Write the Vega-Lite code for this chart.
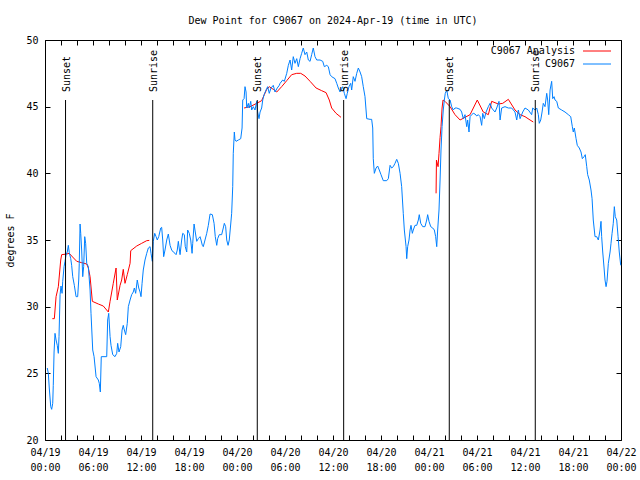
{
"$schema": "https://vega.github.io/schema/vega-lite/v6.json",
"width": 576, "height": 400,
"autosize": {"type": "none"},
"padding": {"left": 45, "top": 40, "right": 19, "bottom": 40},
"background": "white",
"config": {
  "font": "DejaVu Sans Mono",
  "view": {"stroke": "black", "strokeWidth": 1},
  "axis": {"domain": false, "ticks": false, "labelColor": "black", "titleColor": "black", "labelFontSize": 10, "titleFontSize": 10, "titleFontWeight": "normal", "labelFont": "DejaVu Sans Mono", "titleFont": "DejaVu Sans Mono", "grid": true, "gridColor": "#000000", "gridOpacity": 1, "gridWidth": 1}
},
"title": {"text": "Dew Point for C9067 on 2024-Apr-19 (time in UTC)", "fontSize": 10, "fontWeight": "normal", "font": "DejaVu Sans Mono", "anchor": "middle", "offset": 9, "color": "black"},
"datasets": {
  "sun": [
    {"t": "2024-04-19T02:34:00Z", "lab": "Sunset"},
    {"t": "2024-04-19T13:28:00Z", "lab": "Sunrise"},
    {"t": "2024-04-20T02:32:00Z", "lab": "Sunset"},
    {"t": "2024-04-20T13:20:00Z", "lab": "Sunrise"},
    {"t": "2024-04-21T02:32:00Z", "lab": "Sunset"},
    {"t": "2024-04-21T13:17:00Z", "lab": "Sunrise"}
  ],
  "dew": [
{"s":"C9067 Analysis","g":"a1","t":"2024-04-19T00:55:00Z","v":29.1},
{"s":"C9067 Analysis","g":"a1","t":"2024-04-19T01:10:00Z","v":29.1},
{"s":"C9067 Analysis","g":"a1","t":"2024-04-19T01:23:00Z","v":30.75},
{"s":"C9067 Analysis","g":"a1","t":"2024-04-19T01:40:00Z","v":31.5},
{"s":"C9067 Analysis","g":"a1","t":"2024-04-19T01:58:00Z","v":33.5},
{"s":"C9067 Analysis","g":"a1","t":"2024-04-19T02:05:00Z","v":33.9},
{"s":"C9067 Analysis","g":"a1","t":"2024-04-19T02:43:00Z","v":33.95},
{"s":"C9067 Analysis","g":"a1","t":"2024-04-19T03:02:00Z","v":34.0},
{"s":"C9067 Analysis","g":"a1","t":"2024-04-19T03:20:00Z","v":33.8},
{"s":"C9067 Analysis","g":"a1","t":"2024-04-19T03:58:00Z","v":33.4},
{"s":"C9067 Analysis","g":"a1","t":"2024-04-19T04:35:00Z","v":33.3},
{"s":"C9067 Analysis","g":"a1","t":"2024-04-19T05:13:00Z","v":33.2},
{"s":"C9067 Analysis","g":"a1","t":"2024-04-19T05:25:00Z","v":32.9},
{"s":"C9067 Analysis","g":"a1","t":"2024-04-19T05:38:00Z","v":32.25},
{"s":"C9067 Analysis","g":"a1","t":"2024-04-19T05:55:00Z","v":30.4},
{"s":"C9067 Analysis","g":"a1","t":"2024-04-19T06:40:00Z","v":30.2},
{"s":"C9067 Analysis","g":"a1","t":"2024-04-19T07:17:00Z","v":30.05},
{"s":"C9067 Analysis","g":"a1","t":"2024-04-19T07:55:00Z","v":29.6},
{"s":"C9067 Analysis","g":"a1","t":"2024-04-19T08:08:00Z","v":30.4},
{"s":"C9067 Analysis","g":"a1","t":"2024-04-19T08:32:00Z","v":31.75},
{"s":"C9067 Analysis","g":"a1","t":"2024-04-19T08:53:00Z","v":32.9},
{"s":"C9067 Analysis","g":"a1","t":"2024-04-19T09:02:00Z","v":30.5},
{"s":"C9067 Analysis","g":"a1","t":"2024-04-19T09:23:00Z","v":31.6},
{"s":"C9067 Analysis","g":"a1","t":"2024-04-19T09:35:00Z","v":32.0},
{"s":"C9067 Analysis","g":"a1","t":"2024-04-19T09:47:00Z","v":32.8},
{"s":"C9067 Analysis","g":"a1","t":"2024-04-19T10:00:00Z","v":31.75},
{"s":"C9067 Analysis","g":"a1","t":"2024-04-19T10:17:00Z","v":32.4},
{"s":"C9067 Analysis","g":"a1","t":"2024-04-19T10:38:00Z","v":33.25},
{"s":"C9067 Analysis","g":"a1","t":"2024-04-19T10:43:00Z","v":34.2},
{"s":"C9067 Analysis","g":"a1","t":"2024-04-19T11:28:00Z","v":34.55},
{"s":"C9067 Analysis","g":"a1","t":"2024-04-19T12:05:00Z","v":34.75},
{"s":"C9067 Analysis","g":"a1","t":"2024-04-19T12:43:00Z","v":34.95},
{"s":"C9067 Analysis","g":"a1","t":"2024-04-19T13:02:00Z","v":34.97},
{"s":"C9067 Analysis","g":"a2","t":"2024-04-20T00:53:00Z","v":44.9},
{"s":"C9067 Analysis","g":"a2","t":"2024-04-20T01:38:00Z","v":45.0},
{"s":"C9067 Analysis","g":"a2","t":"2024-04-20T02:28:00Z","v":45.25},
{"s":"C9067 Analysis","g":"a2","t":"2024-04-20T03:05:00Z","v":45.45},
{"s":"C9067 Analysis","g":"a2","t":"2024-04-20T03:25:00Z","v":45.9},
{"s":"C9067 Analysis","g":"a2","t":"2024-04-20T03:43:00Z","v":46.3},
{"s":"C9067 Analysis","g":"a2","t":"2024-04-20T04:02:00Z","v":46.5},
{"s":"C9067 Analysis","g":"a2","t":"2024-04-20T04:32:00Z","v":46.3},
{"s":"C9067 Analysis","g":"a2","t":"2024-04-20T04:58:00Z","v":46.1},
{"s":"C9067 Analysis","g":"a2","t":"2024-04-20T05:35:00Z","v":46.5},
{"s":"C9067 Analysis","g":"a2","t":"2024-04-20T06:13:00Z","v":46.95},
{"s":"C9067 Analysis","g":"a2","t":"2024-04-20T06:50:00Z","v":47.4},
{"s":"C9067 Analysis","g":"a2","t":"2024-04-20T07:28:00Z","v":47.5},
{"s":"C9067 Analysis","g":"a2","t":"2024-04-20T07:58:00Z","v":47.5},
{"s":"C9067 Analysis","g":"a2","t":"2024-04-20T08:30:00Z","v":47.3},
{"s":"C9067 Analysis","g":"a2","t":"2024-04-20T09:08:00Z","v":46.9},
{"s":"C9067 Analysis","g":"a2","t":"2024-04-20T09:53:00Z","v":46.4},
{"s":"C9067 Analysis","g":"a2","t":"2024-04-20T10:35:00Z","v":46.2},
{"s":"C9067 Analysis","g":"a2","t":"2024-04-20T11:08:00Z","v":46.05},
{"s":"C9067 Analysis","g":"a2","t":"2024-04-20T11:32:00Z","v":45.5},
{"s":"C9067 Analysis","g":"a2","t":"2024-04-20T11:50:00Z","v":44.9},
{"s":"C9067 Analysis","g":"a2","t":"2024-04-20T12:23:00Z","v":44.5},
{"s":"C9067 Analysis","g":"a2","t":"2024-04-20T13:00:00Z","v":44.2},
{"s":"C9067 Analysis","g":"a3","t":"2024-04-21T00:53:00Z","v":38.5},
{"s":"C9067 Analysis","g":"a3","t":"2024-04-21T00:56:00Z","v":41.0},
{"s":"C9067 Analysis","g":"a3","t":"2024-04-21T01:08:00Z","v":40.5},
{"s":"C9067 Analysis","g":"a3","t":"2024-04-21T01:15:00Z","v":41.5},
{"s":"C9067 Analysis","g":"a3","t":"2024-04-21T01:23:00Z","v":42.7},
{"s":"C9067 Analysis","g":"a3","t":"2024-04-21T01:30:00Z","v":43.5},
{"s":"C9067 Analysis","g":"a3","t":"2024-04-21T01:38:00Z","v":44.9},
{"s":"C9067 Analysis","g":"a3","t":"2024-04-21T01:45:00Z","v":45.5},
{"s":"C9067 Analysis","g":"a3","t":"2024-04-21T02:00:00Z","v":45.4},
{"s":"C9067 Analysis","g":"a3","t":"2024-04-21T02:38:00Z","v":45.0},
{"s":"C9067 Analysis","g":"a3","t":"2024-04-21T03:15:00Z","v":44.4},
{"s":"C9067 Analysis","g":"a3","t":"2024-04-21T03:53:00Z","v":44.0},
{"s":"C9067 Analysis","g":"a3","t":"2024-04-21T05:08:00Z","v":44.4},
{"s":"C9067 Analysis","g":"a3","t":"2024-04-21T06:02:00Z","v":45.5},
{"s":"C9067 Analysis","g":"a3","t":"2024-04-21T06:47:00Z","v":44.6},
{"s":"C9067 Analysis","g":"a3","t":"2024-04-21T07:25:00Z","v":44.4},
{"s":"C9067 Analysis","g":"a3","t":"2024-04-21T07:50:00Z","v":45.4},
{"s":"C9067 Analysis","g":"a3","t":"2024-04-21T08:40:00Z","v":45.2},
{"s":"C9067 Analysis","g":"a3","t":"2024-04-21T09:13:00Z","v":45.25},
{"s":"C9067 Analysis","g":"a3","t":"2024-04-21T09:55:00Z","v":45.55},
{"s":"C9067 Analysis","g":"a3","t":"2024-04-21T10:45:00Z","v":44.75},
{"s":"C9067 Analysis","g":"a3","t":"2024-04-21T11:23:00Z","v":44.4},
{"s":"C9067 Analysis","g":"a3","t":"2024-04-21T12:00:00Z","v":44.25},
{"s":"C9067 Analysis","g":"a3","t":"2024-04-21T12:38:00Z","v":44.0},
{"s":"C9067 Analysis","g":"a3","t":"2024-04-21T13:02:00Z","v":43.85},
{"s":"C9067","g":"o","t":"2024-04-19T00:17:00Z","v":25.4},
{"s":"C9067","g":"o","t":"2024-04-19T00:25:00Z","v":25.0},
{"s":"C9067","g":"o","t":"2024-04-19T00:32:00Z","v":23.9},
{"s":"C9067","g":"o","t":"2024-04-19T00:43:00Z","v":22.5},
{"s":"C9067","g":"o","t":"2024-04-19T00:50:00Z","v":22.3},
{"s":"C9067","g":"o","t":"2024-04-19T00:58:00Z","v":22.75},
{"s":"C9067","g":"o","t":"2024-04-19T01:02:00Z","v":24.1},
{"s":"C9067","g":"o","t":"2024-04-19T01:08:00Z","v":26.6},
{"s":"C9067","g":"o","t":"2024-04-19T01:15:00Z","v":28.0},
{"s":"C9067","g":"o","t":"2024-04-19T01:23:00Z","v":27.5},
{"s":"C9067","g":"o","t":"2024-04-19T01:32:00Z","v":27.1},
{"s":"C9067","g":"o","t":"2024-04-19T01:40:00Z","v":26.5},
{"s":"C9067","g":"o","t":"2024-04-19T01:45:00Z","v":27.75},
{"s":"C9067","g":"o","t":"2024-04-19T01:53:00Z","v":30.9},
{"s":"C9067","g":"o","t":"2024-04-19T02:00:00Z","v":31.55},
{"s":"C9067","g":"o","t":"2024-04-19T02:08:00Z","v":31.0},
{"s":"C9067","g":"o","t":"2024-04-19T02:13:00Z","v":31.9},
{"s":"C9067","g":"o","t":"2024-04-19T02:23:00Z","v":33.0},
{"s":"C9067","g":"o","t":"2024-04-19T02:30:00Z","v":33.4},
{"s":"C9067","g":"o","t":"2024-04-19T02:38:00Z","v":33.9},
{"s":"C9067","g":"o","t":"2024-04-19T02:47:00Z","v":34.1},
{"s":"C9067","g":"o","t":"2024-04-19T02:55:00Z","v":34.6},
{"s":"C9067","g":"o","t":"2024-04-19T03:02:00Z","v":34.05},
{"s":"C9067","g":"o","t":"2024-04-19T03:13:00Z","v":33.6},
{"s":"C9067","g":"o","t":"2024-04-19T03:20:00Z","v":33.1},
{"s":"C9067","g":"o","t":"2024-04-19T03:28:00Z","v":32.25},
{"s":"C9067","g":"o","t":"2024-04-19T03:40:00Z","v":31.6},
{"s":"C9067","g":"o","t":"2024-04-19T03:53:00Z","v":30.75},
{"s":"C9067","g":"o","t":"2024-04-19T04:05:00Z","v":30.75},
{"s":"C9067","g":"o","t":"2024-04-19T04:13:00Z","v":32.0},
{"s":"C9067","g":"o","t":"2024-04-19T04:17:00Z","v":33.25},
{"s":"C9067","g":"o","t":"2024-04-19T04:23:00Z","v":36.2},
{"s":"C9067","g":"o","t":"2024-04-19T04:28:00Z","v":35.5},
{"s":"C9067","g":"o","t":"2024-04-19T04:35:00Z","v":34.25},
{"s":"C9067","g":"o","t":"2024-04-19T04:43:00Z","v":32.25},
{"s":"C9067","g":"o","t":"2024-04-19T04:50:00Z","v":33.0},
{"s":"C9067","g":"o","t":"2024-04-19T04:58:00Z","v":35.25},
{"s":"C9067","g":"o","t":"2024-04-19T05:05:00Z","v":34.75},
{"s":"C9067","g":"o","t":"2024-04-19T05:13:00Z","v":33.25},
{"s":"C9067","g":"o","t":"2024-04-19T05:25:00Z","v":33.0},
{"s":"C9067","g":"o","t":"2024-04-19T05:38:00Z","v":31.25},
{"s":"C9067","g":"o","t":"2024-04-19T05:45:00Z","v":29.5},
{"s":"C9067","g":"o","t":"2024-04-19T05:58:00Z","v":26.75},
{"s":"C9067","g":"o","t":"2024-04-19T06:08:00Z","v":26.25},
{"s":"C9067","g":"o","t":"2024-04-19T06:23:00Z","v":24.75},
{"s":"C9067","g":"o","t":"2024-04-19T06:40:00Z","v":24.5},
{"s":"C9067","g":"o","t":"2024-04-19T06:47:00Z","v":24.25},
{"s":"C9067","g":"o","t":"2024-04-19T06:55:00Z","v":23.6},
{"s":"C9067","g":"o","t":"2024-04-19T07:02:00Z","v":26.25},
{"s":"C9067","g":"o","t":"2024-04-19T07:43:00Z","v":26.25},
{"s":"C9067","g":"o","t":"2024-04-19T07:50:00Z","v":29.0},
{"s":"C9067","g":"o","t":"2024-04-19T07:58:00Z","v":29.5},
{"s":"C9067","g":"o","t":"2024-04-19T08:08:00Z","v":27.75},
{"s":"C9067","g":"o","t":"2024-04-19T08:15:00Z","v":27.1},
{"s":"C9067","g":"o","t":"2024-04-19T08:28:00Z","v":26.4},
{"s":"C9067","g":"o","t":"2024-04-19T08:45:00Z","v":26.25},
{"s":"C9067","g":"o","t":"2024-04-19T08:58:00Z","v":26.5},
{"s":"C9067","g":"o","t":"2024-04-19T09:05:00Z","v":27.25},
{"s":"C9067","g":"o","t":"2024-04-19T09:15:00Z","v":26.6},
{"s":"C9067","g":"o","t":"2024-04-19T09:28:00Z","v":27.0},
{"s":"C9067","g":"o","t":"2024-04-19T09:38:00Z","v":28.25},
{"s":"C9067","g":"o","t":"2024-04-19T09:47:00Z","v":28.6},
{"s":"C9067","g":"o","t":"2024-04-19T09:55:00Z","v":28.25},
{"s":"C9067","g":"o","t":"2024-04-19T10:05:00Z","v":27.9},
{"s":"C9067","g":"o","t":"2024-04-19T10:17:00Z","v":28.75},
{"s":"C9067","g":"o","t":"2024-04-19T10:25:00Z","v":30.0},
{"s":"C9067","g":"o","t":"2024-04-19T10:38:00Z","v":30.5},
{"s":"C9067","g":"o","t":"2024-04-19T10:50:00Z","v":30.9},
{"s":"C9067","g":"o","t":"2024-04-19T11:02:00Z","v":31.1},
{"s":"C9067","g":"o","t":"2024-04-19T11:10:00Z","v":31.4},
{"s":"C9067","g":"o","t":"2024-04-19T11:20:00Z","v":31.0},
{"s":"C9067","g":"o","t":"2024-04-19T11:32:00Z","v":32.0},
{"s":"C9067","g":"o","t":"2024-04-19T11:43:00Z","v":31.4},
{"s":"C9067","g":"o","t":"2024-04-19T11:53:00Z","v":31.1},
{"s":"C9067","g":"o","t":"2024-04-19T12:00:00Z","v":30.75},
{"s":"C9067","g":"o","t":"2024-04-19T12:08:00Z","v":31.75},
{"s":"C9067","g":"o","t":"2024-04-19T12:17:00Z","v":32.75},
{"s":"C9067","g":"o","t":"2024-04-19T12:30:00Z","v":33.5},
{"s":"C9067","g":"o","t":"2024-04-19T12:43:00Z","v":34.0},
{"s":"C9067","g":"o","t":"2024-04-19T12:55:00Z","v":34.4},
{"s":"C9067","g":"o","t":"2024-04-19T13:08:00Z","v":34.5},
{"s":"C9067","g":"o","t":"2024-04-19T13:15:00Z","v":34.0},
{"s":"C9067","g":"o","t":"2024-04-19T13:25:00Z","v":33.4},
{"s":"C9067","g":"o","t":"2024-04-19T13:32:00Z","v":34.9},
{"s":"C9067","g":"o","t":"2024-04-19T13:43:00Z","v":35.5},
{"s":"C9067","g":"o","t":"2024-04-19T13:53:00Z","v":35.25},
{"s":"C9067","g":"o","t":"2024-04-19T14:02:00Z","v":35.0},
{"s":"C9067","g":"o","t":"2024-04-19T14:13:00Z","v":35.25},
{"s":"C9067","g":"o","t":"2024-04-19T14:28:00Z","v":35.9},
{"s":"C9067","g":"o","t":"2024-04-19T14:35:00Z","v":35.95},
{"s":"C9067","g":"o","t":"2024-04-19T14:43:00Z","v":35.0},
{"s":"C9067","g":"o","t":"2024-04-19T14:50:00Z","v":33.75},
{"s":"C9067","g":"o","t":"2024-04-19T15:00:00Z","v":34.25},
{"s":"C9067","g":"o","t":"2024-04-19T15:13:00Z","v":35.0},
{"s":"C9067","g":"o","t":"2024-04-19T15:25:00Z","v":35.45},
{"s":"C9067","g":"o","t":"2024-04-19T15:38:00Z","v":34.6},
{"s":"C9067","g":"o","t":"2024-04-19T15:50:00Z","v":34.25},
{"s":"C9067","g":"o","t":"2024-04-19T16:02:00Z","v":34.1},
{"s":"C9067","g":"o","t":"2024-04-19T16:15:00Z","v":34.0},
{"s":"C9067","g":"o","t":"2024-04-19T16:23:00Z","v":33.9},
{"s":"C9067","g":"o","t":"2024-04-19T16:32:00Z","v":34.25},
{"s":"C9067","g":"o","t":"2024-04-19T16:40:00Z","v":34.9},
{"s":"C9067","g":"o","t":"2024-04-19T16:53:00Z","v":33.9},
{"s":"C9067","g":"o","t":"2024-04-19T17:05:00Z","v":35.0},
{"s":"C9067","g":"o","t":"2024-04-19T17:13:00Z","v":35.5},
{"s":"C9067","g":"o","t":"2024-04-19T17:25:00Z","v":35.4},
{"s":"C9067","g":"o","t":"2024-04-19T17:32:00Z","v":34.5},
{"s":"C9067","g":"o","t":"2024-04-19T17:43:00Z","v":34.1},
{"s":"C9067","g":"o","t":"2024-04-19T17:50:00Z","v":35.75},
{"s":"C9067","g":"o","t":"2024-04-19T18:02:00Z","v":35.5},
{"s":"C9067","g":"o","t":"2024-04-19T18:13:00Z","v":35.0},
{"s":"C9067","g":"o","t":"2024-04-19T18:23:00Z","v":34.0},
{"s":"C9067","g":"o","t":"2024-04-19T18:28:00Z","v":34.75},
{"s":"C9067","g":"o","t":"2024-04-19T18:38:00Z","v":36.2},
{"s":"C9067","g":"o","t":"2024-04-19T18:47:00Z","v":35.6},
{"s":"C9067","g":"o","t":"2024-04-19T18:58:00Z","v":34.9},
{"s":"C9067","g":"o","t":"2024-04-19T19:10:00Z","v":35.1},
{"s":"C9067","g":"o","t":"2024-04-19T19:23:00Z","v":35.25},
{"s":"C9067","g":"o","t":"2024-04-19T19:30:00Z","v":35.0},
{"s":"C9067","g":"o","t":"2024-04-19T19:40:00Z","v":34.6},
{"s":"C9067","g":"o","t":"2024-04-19T19:47:00Z","v":34.5},
{"s":"C9067","g":"o","t":"2024-04-19T20:00:00Z","v":35.0},
{"s":"C9067","g":"o","t":"2024-04-19T20:13:00Z","v":35.5},
{"s":"C9067","g":"o","t":"2024-04-19T20:25:00Z","v":36.1},
{"s":"C9067","g":"o","t":"2024-04-19T20:38:00Z","v":36.95},
{"s":"C9067","g":"o","t":"2024-04-19T20:55:00Z","v":36.9},
{"s":"C9067","g":"o","t":"2024-04-19T21:08:00Z","v":36.25},
{"s":"C9067","g":"o","t":"2024-04-19T21:17:00Z","v":35.25},
{"s":"C9067","g":"o","t":"2024-04-19T21:28:00Z","v":34.6},
{"s":"C9067","g":"o","t":"2024-04-19T21:35:00Z","v":35.1},
{"s":"C9067","g":"o","t":"2024-04-19T21:47:00Z","v":35.4},
{"s":"C9067","g":"o","t":"2024-04-19T22:05:00Z","v":35.4},
{"s":"C9067","g":"o","t":"2024-04-19T22:17:00Z","v":35.9},
{"s":"C9067","g":"o","t":"2024-04-19T22:25:00Z","v":36.25},
{"s":"C9067","g":"o","t":"2024-04-19T22:35:00Z","v":36.0},
{"s":"C9067","g":"o","t":"2024-04-19T22:43:00Z","v":35.0},
{"s":"C9067","g":"o","t":"2024-04-19T22:53:00Z","v":34.6},
{"s":"C9067","g":"o","t":"2024-04-19T23:02:00Z","v":35.0},
{"s":"C9067","g":"o","t":"2024-04-19T23:13:00Z","v":36.2},
{"s":"C9067","g":"o","t":"2024-04-19T23:20:00Z","v":37.0},
{"s":"C9067","g":"o","t":"2024-04-19T23:28:00Z","v":39.0},
{"s":"C9067","g":"o","t":"2024-04-19T23:32:00Z","v":41.5},
{"s":"C9067","g":"o","t":"2024-04-19T23:40:00Z","v":43.1},
{"s":"C9067","g":"o","t":"2024-04-19T23:45:00Z","v":42.5},
{"s":"C9067","g":"o","t":"2024-04-19T23:53:00Z","v":42.4},
{"s":"C9067","g":"o","t":"2024-04-20T00:10:00Z","v":42.5},
{"s":"C9067","g":"o","t":"2024-04-20T00:28:00Z","v":42.6},
{"s":"C9067","g":"o","t":"2024-04-20T00:38:00Z","v":43.4},
{"s":"C9067","g":"o","t":"2024-04-20T00:43:00Z","v":45.5},
{"s":"C9067","g":"o","t":"2024-04-20T00:53:00Z","v":45.6},
{"s":"C9067","g":"o","t":"2024-04-20T01:00:00Z","v":46.5},
{"s":"C9067","g":"o","t":"2024-04-20T01:08:00Z","v":46.1},
{"s":"C9067","g":"o","t":"2024-04-20T01:13:00Z","v":44.9},
{"s":"C9067","g":"o","t":"2024-04-20T01:25:00Z","v":45.25},
{"s":"C9067","g":"o","t":"2024-04-20T01:32:00Z","v":44.9},
{"s":"C9067","g":"o","t":"2024-04-20T01:43:00Z","v":45.4},
{"s":"C9067","g":"o","t":"2024-04-20T01:50:00Z","v":44.75},
{"s":"C9067","g":"o","t":"2024-04-20T02:02:00Z","v":45.0},
{"s":"C9067","g":"o","t":"2024-04-20T02:15:00Z","v":44.75},
{"s":"C9067","g":"o","t":"2024-04-20T02:28:00Z","v":45.4},
{"s":"C9067","g":"o","t":"2024-04-20T02:35:00Z","v":44.6},
{"s":"C9067","g":"o","t":"2024-04-20T02:45:00Z","v":44.1},
{"s":"C9067","g":"o","t":"2024-04-20T02:53:00Z","v":44.6},
{"s":"C9067","g":"o","t":"2024-04-20T03:05:00Z","v":44.9},
{"s":"C9067","g":"o","t":"2024-04-20T03:13:00Z","v":45.5},
{"s":"C9067","g":"o","t":"2024-04-20T03:23:00Z","v":45.9},
{"s":"C9067","g":"o","t":"2024-04-20T03:38:00Z","v":46.25},
{"s":"C9067","g":"o","t":"2024-04-20T03:50:00Z","v":46.5},
{"s":"C9067","g":"o","t":"2024-04-20T04:02:00Z","v":46.0},
{"s":"C9067","g":"o","t":"2024-04-20T04:15:00Z","v":46.4},
{"s":"C9067","g":"o","t":"2024-04-20T04:32:00Z","v":46.6},
{"s":"C9067","g":"o","t":"2024-04-20T04:45:00Z","v":46.1},
{"s":"C9067","g":"o","t":"2024-04-20T05:02:00Z","v":46.4},
{"s":"C9067","g":"o","t":"2024-04-20T05:17:00Z","v":46.6},
{"s":"C9067","g":"o","t":"2024-04-20T05:23:00Z","v":46.75},
{"s":"C9067","g":"o","t":"2024-04-20T05:43:00Z","v":47.0},
{"s":"C9067","g":"o","t":"2024-04-20T05:55:00Z","v":46.9},
{"s":"C9067","g":"o","t":"2024-04-20T06:13:00Z","v":47.5},
{"s":"C9067","g":"o","t":"2024-04-20T06:25:00Z","v":48.1},
{"s":"C9067","g":"o","t":"2024-04-20T06:38:00Z","v":48.5},
{"s":"C9067","g":"o","t":"2024-04-20T06:50:00Z","v":47.75},
{"s":"C9067","g":"o","t":"2024-04-20T07:02:00Z","v":48.75},
{"s":"C9067","g":"o","t":"2024-04-20T07:15:00Z","v":48.25},
{"s":"C9067","g":"o","t":"2024-04-20T07:28:00Z","v":48.6},
{"s":"C9067","g":"o","t":"2024-04-20T07:40:00Z","v":48.0},
{"s":"C9067","g":"o","t":"2024-04-20T07:53:00Z","v":48.6},
{"s":"C9067","g":"o","t":"2024-04-20T08:05:00Z","v":49.0},
{"s":"C9067","g":"o","t":"2024-04-20T08:17:00Z","v":49.4},
{"s":"C9067","g":"o","t":"2024-04-20T08:30:00Z","v":48.9},
{"s":"C9067","g":"o","t":"2024-04-20T08:43:00Z","v":49.1},
{"s":"C9067","g":"o","t":"2024-04-20T08:55:00Z","v":48.5},
{"s":"C9067","g":"o","t":"2024-04-20T09:08:00Z","v":48.4},
{"s":"C9067","g":"o","t":"2024-04-20T09:20:00Z","v":48.9},
{"s":"C9067","g":"o","t":"2024-04-20T09:32:00Z","v":49.4},
{"s":"C9067","g":"o","t":"2024-04-20T09:45:00Z","v":48.75},
{"s":"C9067","g":"o","t":"2024-04-20T09:58:00Z","v":48.5},
{"s":"C9067","g":"o","t":"2024-04-20T10:23:00Z","v":48.5},
{"s":"C9067","g":"o","t":"2024-04-20T10:43:00Z","v":48.4},
{"s":"C9067","g":"o","t":"2024-04-20T10:55:00Z","v":48.0},
{"s":"C9067","g":"o","t":"2024-04-20T11:13:00Z","v":48.1},
{"s":"C9067","g":"o","t":"2024-04-20T11:25:00Z","v":48.0},
{"s":"C9067","g":"o","t":"2024-04-20T11:38:00Z","v":47.4},
{"s":"C9067","g":"o","t":"2024-04-20T11:50:00Z","v":47.25},
{"s":"C9067","g":"o","t":"2024-04-20T12:15:00Z","v":47.1},
{"s":"C9067","g":"o","t":"2024-04-20T12:28:00Z","v":46.75},
{"s":"C9067","g":"o","t":"2024-04-20T12:40:00Z","v":46.4},
{"s":"C9067","g":"o","t":"2024-04-20T12:53:00Z","v":46.1},
{"s":"C9067","g":"o","t":"2024-04-20T13:13:00Z","v":46.5},
{"s":"C9067","g":"o","t":"2024-04-20T13:25:00Z","v":46.0},
{"s":"C9067","g":"o","t":"2024-04-20T13:38:00Z","v":45.6},
{"s":"C9067","g":"o","t":"2024-04-20T13:47:00Z","v":46.0},
{"s":"C9067","g":"o","t":"2024-04-20T14:00:00Z","v":46.5},
{"s":"C9067","g":"o","t":"2024-04-20T14:13:00Z","v":46.75},
{"s":"C9067","g":"o","t":"2024-04-20T14:20:00Z","v":46.25},
{"s":"C9067","g":"o","t":"2024-04-20T14:32:00Z","v":47.25},
{"s":"C9067","g":"o","t":"2024-04-20T14:45:00Z","v":46.9},
{"s":"C9067","g":"o","t":"2024-04-20T14:58:00Z","v":47.5},
{"s":"C9067","g":"o","t":"2024-04-20T15:10:00Z","v":47.9},
{"s":"C9067","g":"o","t":"2024-04-20T15:23:00Z","v":47.6},
{"s":"C9067","g":"o","t":"2024-04-20T15:35:00Z","v":47.25},
{"s":"C9067","g":"o","t":"2024-04-20T15:47:00Z","v":46.5},
{"s":"C9067","g":"o","t":"2024-04-20T16:00:00Z","v":45.75},
{"s":"C9067","g":"o","t":"2024-04-20T16:13:00Z","v":44.1},
{"s":"C9067","g":"o","t":"2024-04-20T16:38:00Z","v":44.05},
{"s":"C9067","g":"o","t":"2024-04-20T16:50:00Z","v":44.05},
{"s":"C9067","g":"o","t":"2024-04-20T16:58:00Z","v":43.4},
{"s":"C9067","g":"o","t":"2024-04-20T17:02:00Z","v":41.1},
{"s":"C9067","g":"o","t":"2024-04-20T17:10:00Z","v":40.0},
{"s":"C9067","g":"o","t":"2024-04-20T17:23:00Z","v":40.4},
{"s":"C9067","g":"o","t":"2024-04-20T17:35:00Z","v":40.55},
{"s":"C9067","g":"o","t":"2024-04-20T17:47:00Z","v":40.25},
{"s":"C9067","g":"o","t":"2024-04-20T18:00:00Z","v":39.9},
{"s":"C9067","g":"o","t":"2024-04-20T18:17:00Z","v":39.45},
{"s":"C9067","g":"o","t":"2024-04-20T18:43:00Z","v":39.45},
{"s":"C9067","g":"o","t":"2024-04-20T18:55:00Z","v":39.6},
{"s":"C9067","g":"o","t":"2024-04-20T19:08:00Z","v":40.6},
{"s":"C9067","g":"o","t":"2024-04-20T19:20:00Z","v":40.4},
{"s":"C9067","g":"o","t":"2024-04-20T19:32:00Z","v":40.5},
{"s":"C9067","g":"o","t":"2024-04-20T19:45:00Z","v":40.75},
{"s":"C9067","g":"o","t":"2024-04-20T19:58:00Z","v":41.05},
{"s":"C9067","g":"o","t":"2024-04-20T20:10:00Z","v":40.75},
{"s":"C9067","g":"o","t":"2024-04-20T20:23:00Z","v":40.0},
{"s":"C9067","g":"o","t":"2024-04-20T20:35:00Z","v":39.0},
{"s":"C9067","g":"o","t":"2024-04-20T20:47:00Z","v":37.0},
{"s":"C9067","g":"o","t":"2024-04-20T20:55:00Z","v":35.75},
{"s":"C9067","g":"o","t":"2024-04-20T21:08:00Z","v":34.5},
{"s":"C9067","g":"o","t":"2024-04-20T21:13:00Z","v":33.6},
{"s":"C9067","g":"o","t":"2024-04-20T21:20:00Z","v":34.5},
{"s":"C9067","g":"o","t":"2024-04-20T21:30:00Z","v":35.0},
{"s":"C9067","g":"o","t":"2024-04-20T21:38:00Z","v":35.75},
{"s":"C9067","g":"o","t":"2024-04-20T21:45:00Z","v":36.1},
{"s":"C9067","g":"o","t":"2024-04-20T21:55:00Z","v":35.5},
{"s":"C9067","g":"o","t":"2024-04-20T22:02:00Z","v":35.75},
{"s":"C9067","g":"o","t":"2024-04-20T22:15:00Z","v":36.1},
{"s":"C9067","g":"o","t":"2024-04-20T22:28:00Z","v":36.1},
{"s":"C9067","g":"o","t":"2024-04-20T22:40:00Z","v":36.5},
{"s":"C9067","g":"o","t":"2024-04-20T22:47:00Z","v":36.9},
{"s":"C9067","g":"o","t":"2024-04-20T22:58:00Z","v":36.25},
{"s":"C9067","g":"o","t":"2024-04-20T23:13:00Z","v":36.0},
{"s":"C9067","g":"o","t":"2024-04-20T23:30:00Z","v":36.0},
{"s":"C9067","g":"o","t":"2024-04-20T23:43:00Z","v":36.5},
{"s":"C9067","g":"o","t":"2024-04-20T23:50:00Z","v":36.9},
{"s":"C9067","g":"o","t":"2024-04-21T00:00:00Z","v":36.4},
{"s":"C9067","g":"o","t":"2024-04-21T00:13:00Z","v":36.0},
{"s":"C9067","g":"o","t":"2024-04-21T00:28:00Z","v":35.9},
{"s":"C9067","g":"o","t":"2024-04-21T00:40:00Z","v":35.75},
{"s":"C9067","g":"o","t":"2024-04-21T00:50:00Z","v":35.25},
{"s":"C9067","g":"o","t":"2024-04-21T00:58:00Z","v":34.5},
{"s":"C9067","g":"o","t":"2024-04-21T01:05:00Z","v":35.75},
{"s":"C9067","g":"o","t":"2024-04-21T01:15:00Z","v":37.25},
{"s":"C9067","g":"o","t":"2024-04-21T01:23:00Z","v":39.5},
{"s":"C9067","g":"o","t":"2024-04-21T01:30:00Z","v":41.75},
{"s":"C9067","g":"o","t":"2024-04-21T01:38:00Z","v":43.5},
{"s":"C9067","g":"o","t":"2024-04-21T01:47:00Z","v":44.75},
{"s":"C9067","g":"o","t":"2024-04-21T01:55:00Z","v":45.5},
{"s":"C9067","g":"o","t":"2024-04-21T02:02:00Z","v":46.0},
{"s":"C9067","g":"o","t":"2024-04-21T02:13:00Z","v":46.25},
{"s":"C9067","g":"o","t":"2024-04-21T02:25:00Z","v":45.6},
{"s":"C9067","g":"o","t":"2024-04-21T02:38:00Z","v":45.5},
{"s":"C9067","g":"o","t":"2024-04-21T02:50:00Z","v":45.0},
{"s":"C9067","g":"o","t":"2024-04-21T03:02:00Z","v":44.75},
{"s":"C9067","g":"o","t":"2024-04-21T03:15:00Z","v":44.9},
{"s":"C9067","g":"o","t":"2024-04-21T03:28:00Z","v":44.9},
{"s":"C9067","g":"o","t":"2024-04-21T03:53:00Z","v":44.8},
{"s":"C9067","g":"o","t":"2024-04-21T04:05:00Z","v":44.6},
{"s":"C9067","g":"o","t":"2024-04-21T04:17:00Z","v":44.1},
{"s":"C9067","g":"o","t":"2024-04-21T04:30:00Z","v":44.4},
{"s":"C9067","g":"o","t":"2024-04-21T04:43:00Z","v":43.5},
{"s":"C9067","g":"o","t":"2024-04-21T04:50:00Z","v":44.0},
{"s":"C9067","g":"o","t":"2024-04-21T05:00:00Z","v":43.1},
{"s":"C9067","g":"o","t":"2024-04-21T05:08:00Z","v":44.25},
{"s":"C9067","g":"o","t":"2024-04-21T05:20:00Z","v":44.4},
{"s":"C9067","g":"o","t":"2024-04-21T05:32:00Z","v":44.5},
{"s":"C9067","g":"o","t":"2024-04-21T05:45:00Z","v":44.45},
{"s":"C9067","g":"o","t":"2024-04-21T05:58:00Z","v":44.3},
{"s":"C9067","g":"o","t":"2024-04-21T06:10:00Z","v":44.4},
{"s":"C9067","g":"o","t":"2024-04-21T06:23:00Z","v":44.25},
{"s":"C9067","g":"o","t":"2024-04-21T06:35:00Z","v":43.6},
{"s":"C9067","g":"o","t":"2024-04-21T06:43:00Z","v":44.5},
{"s":"C9067","g":"o","t":"2024-04-21T06:55:00Z","v":44.1},
{"s":"C9067","g":"o","t":"2024-04-21T07:08:00Z","v":44.6},
{"s":"C9067","g":"o","t":"2024-04-21T07:25:00Z","v":45.0},
{"s":"C9067","g":"o","t":"2024-04-21T07:38:00Z","v":45.25},
{"s":"C9067","g":"o","t":"2024-04-21T07:50:00Z","v":44.9},
{"s":"C9067","g":"o","t":"2024-04-21T08:02:00Z","v":44.75},
{"s":"C9067","g":"o","t":"2024-04-21T08:15:00Z","v":44.6},
{"s":"C9067","g":"o","t":"2024-04-21T08:28:00Z","v":44.9},
{"s":"C9067","g":"o","t":"2024-04-21T08:45:00Z","v":45.4},
{"s":"C9067","g":"o","t":"2024-04-21T08:53:00Z","v":44.0},
{"s":"C9067","g":"o","t":"2024-04-21T09:05:00Z","v":44.9},
{"s":"C9067","g":"o","t":"2024-04-21T09:30:00Z","v":45.0},
{"s":"C9067","g":"o","t":"2024-04-21T09:55:00Z","v":44.9},
{"s":"C9067","g":"o","t":"2024-04-21T10:20:00Z","v":44.9},
{"s":"C9067","g":"o","t":"2024-04-21T10:45:00Z","v":44.6},
{"s":"C9067","g":"o","t":"2024-04-21T10:58:00Z","v":44.0},
{"s":"C9067","g":"o","t":"2024-04-21T11:10:00Z","v":44.75},
{"s":"C9067","g":"o","t":"2024-04-21T11:23:00Z","v":44.1},
{"s":"C9067","g":"o","t":"2024-04-21T11:43:00Z","v":44.6},
{"s":"C9067","g":"o","t":"2024-04-21T12:00:00Z","v":44.9},
{"s":"C9067","g":"o","t":"2024-04-21T12:25:00Z","v":44.75},
{"s":"C9067","g":"o","t":"2024-04-21T12:50:00Z","v":44.4},
{"s":"C9067","g":"o","t":"2024-04-21T12:58:00Z","v":44.9},
{"s":"C9067","g":"o","t":"2024-04-21T13:15:00Z","v":44.75},
{"s":"C9067","g":"o","t":"2024-04-21T13:28:00Z","v":44.9},
{"s":"C9067","g":"o","t":"2024-04-21T13:40:00Z","v":44.4},
{"s":"C9067","g":"o","t":"2024-04-21T13:47:00Z","v":43.75},
{"s":"C9067","g":"o","t":"2024-04-21T13:58:00Z","v":44.0},
{"s":"C9067","g":"o","t":"2024-04-21T14:08:00Z","v":44.6},
{"s":"C9067","g":"o","t":"2024-04-21T14:17:00Z","v":45.25},
{"s":"C9067","g":"o","t":"2024-04-21T14:30:00Z","v":45.0},
{"s":"C9067","g":"o","t":"2024-04-21T14:43:00Z","v":46.0},
{"s":"C9067","g":"o","t":"2024-04-21T14:50:00Z","v":45.5},
{"s":"C9067","g":"o","t":"2024-04-21T14:58:00Z","v":44.4},
{"s":"C9067","g":"o","t":"2024-04-21T15:08:00Z","v":46.25},
{"s":"C9067","g":"o","t":"2024-04-21T15:20:00Z","v":46.9},
{"s":"C9067","g":"o","t":"2024-04-21T15:28:00Z","v":45.6},
{"s":"C9067","g":"o","t":"2024-04-21T15:38:00Z","v":45.75},
{"s":"C9067","g":"o","t":"2024-04-21T15:45:00Z","v":45.5},
{"s":"C9067","g":"o","t":"2024-04-21T15:58:00Z","v":45.4},
{"s":"C9067","g":"o","t":"2024-04-21T16:10:00Z","v":44.9},
{"s":"C9067","g":"o","t":"2024-04-21T16:35:00Z","v":44.75},
{"s":"C9067","g":"o","t":"2024-04-21T17:00:00Z","v":44.6},
{"s":"C9067","g":"o","t":"2024-04-21T17:25:00Z","v":44.4},
{"s":"C9067","g":"o","t":"2024-04-21T17:43:00Z","v":44.25},
{"s":"C9067","g":"o","t":"2024-04-21T17:55:00Z","v":43.5},
{"s":"C9067","g":"o","t":"2024-04-21T18:02:00Z","v":43.1},
{"s":"C9067","g":"o","t":"2024-04-21T18:10:00Z","v":43.4},
{"s":"C9067","g":"o","t":"2024-04-21T18:23:00Z","v":42.6},
{"s":"C9067","g":"o","t":"2024-04-21T18:32:00Z","v":42.1},
{"s":"C9067","g":"o","t":"2024-04-21T18:47:00Z","v":41.9},
{"s":"C9067","g":"o","t":"2024-04-21T19:00:00Z","v":41.6},
{"s":"C9067","g":"o","t":"2024-04-21T19:10:00Z","v":41.1},
{"s":"C9067","g":"o","t":"2024-04-21T19:23:00Z","v":41.25},
{"s":"C9067","g":"o","t":"2024-04-21T19:32:00Z","v":41.4},
{"s":"C9067","g":"o","t":"2024-04-21T19:43:00Z","v":40.5},
{"s":"C9067","g":"o","t":"2024-04-21T19:50:00Z","v":39.9},
{"s":"C9067","g":"o","t":"2024-04-21T20:02:00Z","v":39.5},
{"s":"C9067","g":"o","t":"2024-04-21T20:15:00Z","v":38.75},
{"s":"C9067","g":"o","t":"2024-04-21T20:23:00Z","v":38.1},
{"s":"C9067","g":"o","t":"2024-04-21T20:32:00Z","v":36.5},
{"s":"C9067","g":"o","t":"2024-04-21T20:45:00Z","v":35.25},
{"s":"C9067","g":"o","t":"2024-04-21T20:58:00Z","v":35.25},
{"s":"C9067","g":"o","t":"2024-04-21T21:10:00Z","v":35.0},
{"s":"C9067","g":"o","t":"2024-04-21T21:23:00Z","v":35.75},
{"s":"C9067","g":"o","t":"2024-04-21T21:30:00Z","v":36.4},
{"s":"C9067","g":"o","t":"2024-04-21T21:35:00Z","v":35.25},
{"s":"C9067","g":"o","t":"2024-04-21T21:43:00Z","v":34.1},
{"s":"C9067","g":"o","t":"2024-04-21T21:53:00Z","v":32.9},
{"s":"C9067","g":"o","t":"2024-04-21T22:00:00Z","v":32.0},
{"s":"C9067","g":"o","t":"2024-04-21T22:08:00Z","v":31.5},
{"s":"C9067","g":"o","t":"2024-04-21T22:15:00Z","v":31.9},
{"s":"C9067","g":"o","t":"2024-04-21T22:25:00Z","v":33.25},
{"s":"C9067","g":"o","t":"2024-04-21T22:38:00Z","v":34.1},
{"s":"C9067","g":"o","t":"2024-04-21T22:45:00Z","v":34.75},
{"s":"C9067","g":"o","t":"2024-04-21T22:53:00Z","v":35.5},
{"s":"C9067","g":"o","t":"2024-04-21T23:02:00Z","v":36.25},
{"s":"C9067","g":"o","t":"2024-04-21T23:10:00Z","v":37.5},
{"s":"C9067","g":"o","t":"2024-04-21T23:17:00Z","v":36.75},
{"s":"C9067","g":"o","t":"2024-04-21T23:28:00Z","v":36.5},
{"s":"C9067","g":"o","t":"2024-04-21T23:38:00Z","v":35.25},
{"s":"C9067","g":"o","t":"2024-04-21T23:47:00Z","v":34.1},
{"s":"C9067","g":"o","t":"2024-04-21T23:58:00Z","v":33.1}
  ]
},
"layer": [
  {
    "data": {"name": "dew"},
    "mark": {"type": "line", "strokeWidth": 1},
    "encoding": {
      "x": {"field": "t", "type": "temporal",
        "scale": {"type": "utc", "domain": [1713484800000, 1713744000000]},
        "axis": {"orient": "bottom", "title": null, "grid": true, "gridDash": [5, 390, 5, 1000],
          "values": [1713484800000,1713492000000,1713499200000,1713506400000,1713513600000,1713520800000,1713528000000,1713535200000,1713542400000,1713549600000,1713556800000,1713564000000,1713571200000,1713578400000,1713585600000,1713592800000,1713600000000,1713607200000,1713614400000,1713621600000,1713628800000,1713636000000,1713643200000,1713650400000,1713657600000,1713664800000,1713672000000,1713679200000,1713686400000,1713693600000,1713700800000,1713708000000,1713715200000,1713722400000,1713729600000,1713736800000,1713744000000],
          "labelPadding": 7, "labelBaseline": "top", "labelLineHeight": 15, "labelOverlap": false, "labelFlush": false, "labelBound": false,
          "labelExpr": "utchours(datum.value) % 6 == 0 ? [utcFormat(datum.value, '%m/%d'), utcFormat(datum.value, '%H:%M')] : ''"}},
      "y": {"field": "v", "type": "quantitative",
        "scale": {"domain": [20, 50], "nice": false, "zero": false},
        "axis": {"orient": "left", "title": "degrees F", "grid": true, "gridDash": [5, 566, 5, 1000], "values": [20, 25, 30, 35, 40, 45, 50], "labelPadding": 7, "titleX": -35, "titleY": 200, "titleAngle": 270, "titleAlign": "center", "titleBaseline": "middle"}},
      "color": {"field": "s", "type": "nominal",
        "scale": {"domain": ["C9067 Analysis", "C9067"], "range": ["#ff0000", "#0080ff"]},
        "legend": {"orient": "none", "legendX": 547, "legendY": 6, "title": null, "padding": 0, "symbolType": "M-4,0H4", "symbolSize": 49, "symbolStrokeWidth": 1, "symbolFillColor": "transparent", "labelAlign": "right", "labelOffset": -27, "labelFontSize": 10, "labelFont": "DejaVu Sans Mono", "labelColor": "black", "rowPadding": 3, "labelLimit": 300}},
      "detail": {"field": "g", "type": "nominal"}
    }
  },
  {
    "data": {"name": "sun"},
    "mark": {"type": "rule", "color": "black", "strokeWidth": 1},
    "encoding": {
      "x": {"field": "t", "type": "temporal",
        "axis": {"orient": "bottom", "title": null, "grid": true, "gridDash": [5, 390, 5, 1000],
          "values": [1713484800000,1713492000000,1713499200000,1713506400000,1713513600000,1713520800000,1713528000000,1713535200000,1713542400000,1713549600000,1713556800000,1713564000000,1713571200000,1713578400000,1713585600000,1713592800000,1713600000000,1713607200000,1713614400000,1713621600000,1713628800000,1713636000000,1713643200000,1713650400000,1713657600000,1713664800000,1713672000000,1713679200000,1713686400000,1713693600000,1713700800000,1713708000000,1713715200000,1713722400000,1713729600000,1713736800000,1713744000000],
          "labelPadding": 7, "labelBaseline": "top", "labelLineHeight": 15, "labelOverlap": false, "labelFlush": false, "labelBound": false,
          "labelExpr": "utchours(datum.value) % 6 == 0 ? [utcFormat(datum.value, '%m/%d'), utcFormat(datum.value, '%H:%M')] : ''"}},
      "y": {"datum": 20, "type": "quantitative",
        "axis": {"orient": "left", "title": "degrees F", "grid": true, "gridDash": [5, 566, 5, 1000], "values": [20, 25, 30, 35, 40, 45, 50], "labelPadding": 7, "titleX": -35, "titleY": 200, "titleAngle": 270, "titleAlign": "center", "titleBaseline": "middle"}},
      "y2": {"datum": 45.5}
    }
  },
  {
    "data": {"name": "sun"},
    "mark": {"type": "text", "angle": 270, "align": "left", "baseline": "middle", "dx": 8, "dy": 1, "fontSize": 10, "font": "DejaVu Sans Mono", "color": "black"},
    "encoding": {
      "x": {"field": "t", "type": "temporal",
        "axis": {"orient": "bottom", "title": null, "grid": true, "gridDash": [5, 390, 5, 1000],
          "values": [1713484800000,1713492000000,1713499200000,1713506400000,1713513600000,1713520800000,1713528000000,1713535200000,1713542400000,1713549600000,1713556800000,1713564000000,1713571200000,1713578400000,1713585600000,1713592800000,1713600000000,1713607200000,1713614400000,1713621600000,1713628800000,1713636000000,1713643200000,1713650400000,1713657600000,1713664800000,1713672000000,1713679200000,1713686400000,1713693600000,1713700800000,1713708000000,1713715200000,1713722400000,1713729600000,1713736800000,1713744000000],
          "labelPadding": 7, "labelBaseline": "top", "labelLineHeight": 15, "labelOverlap": false, "labelFlush": false, "labelBound": false,
          "labelExpr": "utchours(datum.value) % 6 == 0 ? [utcFormat(datum.value, '%m/%d'), utcFormat(datum.value, '%H:%M')] : ''"}},
      "y": {"datum": 45.5, "type": "quantitative",
        "axis": {"orient": "left", "title": "degrees F", "grid": true, "gridDash": [5, 566, 5, 1000], "values": [20, 25, 30, 35, 40, 45, 50], "labelPadding": 7, "titleX": -35, "titleY": 200, "titleAngle": 270, "titleAlign": "center", "titleBaseline": "middle"}},
      "text": {"field": "lab", "type": "nominal"}
    }
  }
]
}
